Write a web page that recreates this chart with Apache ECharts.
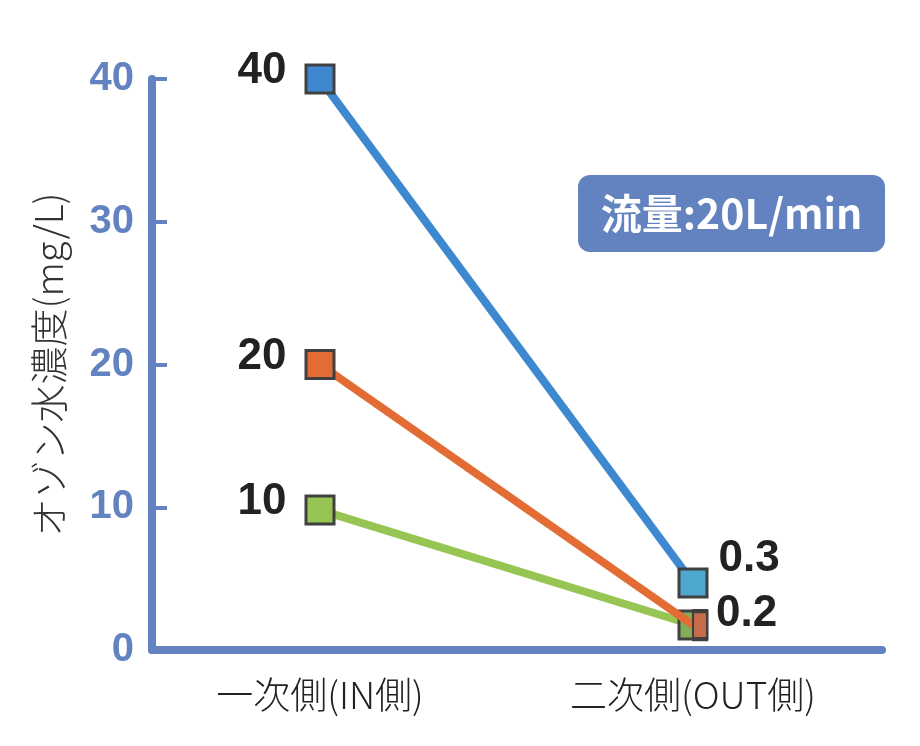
<!DOCTYPE html>
<html>
<head>
<meta charset="utf-8">
<script src="https://cdn.jsdelivr.net/npm/echarts@6/dist/echarts.min.js"></script>
<style>html,body{margin:0;padding:0;background:#fff;}#c{width:920px;height:746px;}</style>
</head>
<body>
<div id="c"></div>
<script>
// ---- data ----
var categories = ['一次側(IN側)', '二次側(OUT側)'];
var yTicks = [0, 10, 20, 30, 40];
// plotted positions as drawn in the picture
var blueValues = [40, 4.7];
var orangeValues = [20, 1.75];
var greenValues = [9.8, 1.75];
// annotation texts shown next to the markers
var blueLabels = ['40', '0.3'];
var orangeLabels = ['20', '0.2'];
var greenLabels = ['10', ''];
var yAxisName = 'オゾン水濃度(mg/L)';
var boxText = '流量:20L/min';

var AX = '#6283c0';
var chart = echarts.init(document.getElementById('c'));

function lbl(text, side, dist, dy) {
  if (!text) return { show: false };
  return {
    show: true, formatter: text, position: side, distance: dist, offset: [0, dy],
    fontSize: 44, fontWeight: 'bold', color: '#222', fontFamily: 'Liberation Sans, Arial, sans-serif'
  };
}
var sq = 28;
function mk(vals, labels, pointColors, special) {
  return vals.map(function (v, i) {
    var it = {
      value: v,
      itemStyle: { color: pointColors[i], borderColor: '#404040', borderWidth: 3 },
      label: i === 0 ? lbl(labels[i], 'left', 18, -8) : lbl(labels[i], 'right', special ? special.dist : 10, special ? special.dy : -24)
    };
    if (i === 1 && special && special.half) {
      it.symbolSize = [sq / 2, sq];
      it.symbolOffset = [sq / 4, 0];
    }
    return it;
  });
}

var baseSeries = {
  type: 'line', xAxisIndex: 0, yAxisIndex: 0, symbol: 'rect', symbolSize: sq,
  showAllSymbol: true, silent: true, animation: false, emphasis: { disabled: true }
};

var option = {
  animation: false,
  grid: [
    { left: 133.5, right: 40.5, top: 79, bottom: 96 },
    { left: 152, right: 38, top: 79, bottom: 96 }
  ],
  xAxis: [
    {
      type: 'category', gridIndex: 0, data: categories, boundaryGap: true,
      axisLine: { show: false }, axisTick: { show: false },
      axisLabel: { margin: 26, fontSize: 37, color: '#222', fontFamily: 'Noto Sans CJK JP', fontWeight: 300, interval: 0 }
    },
    {
      type: 'category', gridIndex: 1, data: categories, boundaryGap: true,
      axisLine: { lineStyle: { color: AX, width: 8 } },
      axisTick: { inside: true, length: 15, lineStyle: { color: AX, width: 4 } },
      axisLabel: { show: false }
    }
  ],
  yAxis: [
    { type: 'value', gridIndex: 0, min: 0, max: 40, interval: 10, show: false },
    {
      type: 'value', gridIndex: 1, min: yTicks[0], max: yTicks[yTicks.length - 1], interval: 10,
      splitLine: { show: false },
      axisLine: { show: true, lineStyle: { color: AX, width: 8 } },
      axisTick: { show: true, inside: true, length: 15, lineStyle: { color: AX, width: 4 } },
      axisLabel: { margin: 18, fontSize: 40, fontWeight: 'bold', color: AX, fontFamily: 'Liberation Sans, Arial, sans-serif' },
      name: yAxisName, nameLocation: 'middle', nameRotate: 90, nameGap: 84,
      nameTextStyle: { fontSize: 38, color: '#333', fontFamily: 'Noto Sans CJK JP', fontWeight: 300 }
    }
  ],
  series: [
    Object.assign({}, baseSeries, {
      name: 'green', z: 2,
      lineStyle: { color: '#97c553', width: 8 },
      data: mk(greenValues, greenLabels, ['#97c553', '#82ad58'])
    }),
    Object.assign({}, baseSeries, {
      name: 'orange', z: 3,
      lineStyle: { color: '#e36c35', width: 8 },
      data: mk(orangeValues, orangeLabels, ['#e36c35', '#c66c4a'], { half: true, dist: 8, dy: -11 })
    }),
    Object.assign({}, baseSeries, {
      name: 'blue', z: 4,
      lineStyle: { color: '#3d88cf', width: 8 },
      data: mk(blueValues, blueLabels, ['#3d88cf', '#4ea7cc'])
    })
  ],
  graphic: [
    {
      type: 'group', left: 578, top: 175,
      children: [
        { type: 'rect', shape: { x: 0, y: 0, width: 307, height: 77, r: 12 }, style: { fill: AX } },
        {
          type: 'text', x: 153.5, y: 38.5,
          style: { text: boxText, fill: '#fff', fontSize: 41, fontWeight: 'bold', fontFamily: 'Noto Sans CJK JP', align: 'center', verticalAlign: 'middle' }
        }
      ]
    }
  ]
};
chart.setOption(option);
</script>
</body>
</html>
